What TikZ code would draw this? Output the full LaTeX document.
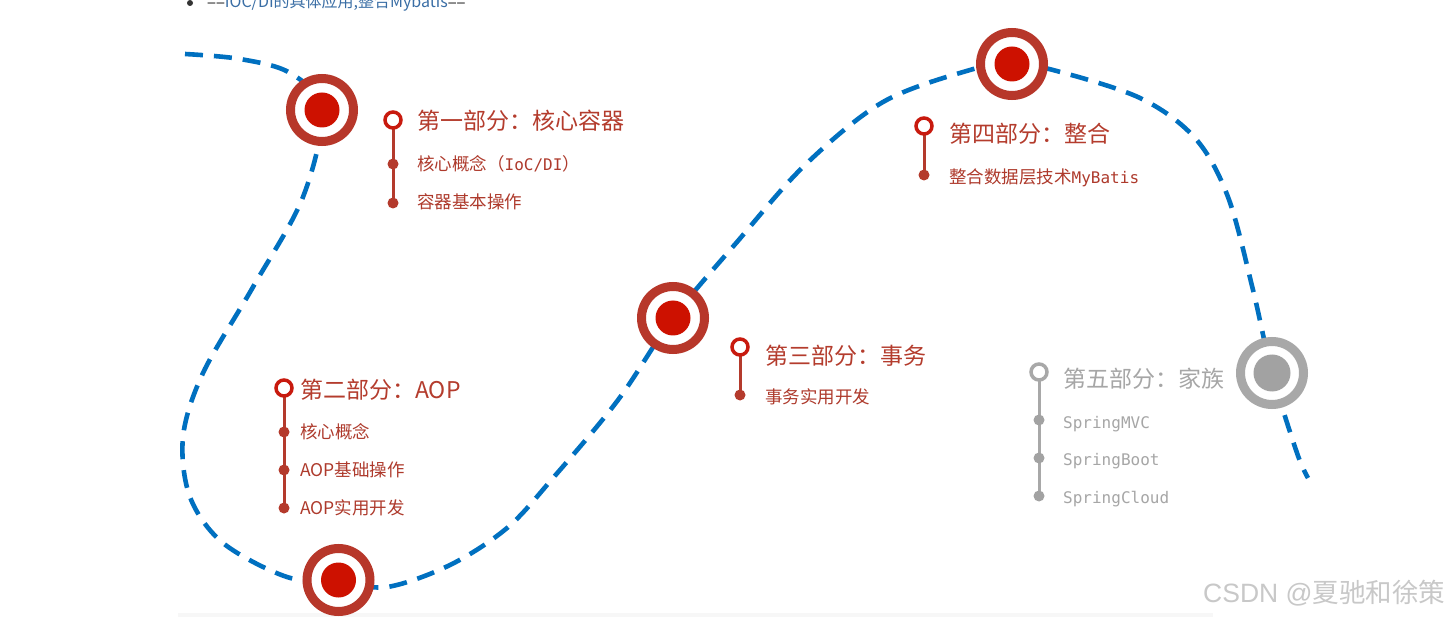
\documentclass[tikz,border=0pt]{standalone}
\usepackage{fontspec}
\setmainfont{Noto Sans CJK SC}
\newfontfamily\mono{DejaVu Sans Mono}
\newfontfamily\lsans{Liberation Sans}
\usetikzlibrary{backgrounds}
\definecolor{pathblue}{HTML}{0070C0}
\definecolor{ringred}{HTML}{B7372A}
\definecolor{dotred}{HTML}{CD1100}
\definecolor{markred}{HTML}{C81A0E}
\definecolor{stemred}{HTML}{B43A2C}
\definecolor{titlered}{HTML}{B43C2D}
\definecolor{subred}{HTML}{AE3A2C}
\definecolor{ringgray}{HTML}{A8A8A8}
\definecolor{dotgray}{HTML}{A2A2A2}
\definecolor{txtgray}{HTML}{A6A6A6}
\definecolor{topdark}{HTML}{333333}
\definecolor{topblue}{HTML}{3A6EA5}
\definecolor{wmgray}{HTML}{C8C8C8}
\begin{document}
\begin{tikzpicture}[x=1pt,y=-1pt,
  curvepath/.style={draw=pathblue, line width=4.6pt, dash pattern=on 18pt off 11pt},
  bigring/.style={circle, draw=#1, line width=9pt, fill=white, minimum size=63pt, inner sep=0pt},
  bigdot/.style={circle, fill=#1, minimum size=35pt, inner sep=0pt},
  hollow/.style={circle, draw=#1, line width=3.5pt, fill=white, minimum size=16pt, inner sep=0pt},
  smalldot/.style={circle, fill=#1, minimum size=11pt, inner sep=0pt},
  stem/.style={draw=#1, line width=3pt},
  title/.style={anchor=base west, inner sep=0pt, text=#1, font=\fontsize{23}{23}\selectfont},
  sub/.style={anchor=base west, inner sep=0pt, text=#1, font=\fontsize{17.5}{17.5}\selectfont},
  monosub/.style={anchor=base west, inner sep=0pt, text=#1, font=\mono\fontsize{16}{16}\selectfont},
]
\useasboundingbox (0,0) rectangle (1456,617);

% top line (cut off)
\node[circle, fill=topdark, minimum size=6pt, inner sep=0pt] (bullet) at (190,3) {};
\node[anchor=base west, inner sep=0pt, font=\fontsize{16}{16}\selectfont] (toptext) at (207,7.5)
  {\textcolor{topdark}{==}\textcolor{topblue}{IOC/DI的具体应用,整合Mybatis}\textcolor{topdark}{==}};

% dashed route
\draw[curvepath] plot[smooth, tension=0.55] coordinates {
 (185,54) (240,59) (290,73) (322,110) (303,197) (253,287) (203,373) (183,437)
 (190,497) (223,543) (287,577) (338,581) (387,587) (450,565) (507,528) (553,478)
 (618,400) (673,318) (737,242) (805,165) (883,102) (970,70) (1012,64) (1053,70)
 (1140,98) (1195,138) (1228,197) (1253,290) (1272,373) (1297,453) (1308,478)};

% milestone rings
\node[bigring=ringred] (r1) at (322,110) {};
\node[bigdot=dotred] (r1d) at (r1) {};
\node[bigring=ringred] (r2) at (338.5,580) {};
\node[bigdot=dotred] (r2d) at (r2) {};
\node[bigring=ringred] (r3) at (673,318) {};
\node[bigdot=dotred] (r3d) at (r3) {};
\node[bigring=ringred] (r4) at (1012,64) {};
\node[bigdot=dotred] (r4d) at (r4) {};
\node[bigring=ringgray] (r5) at (1272,373) {};
\node[bigdot=dotgray, minimum size=37pt] (r5d) at (r5) {};

% section 1
\node[hollow=markred] (h1) at (393,120) {};
\node[smalldot=stemred] (d11) at (393,164) {};
\node[smalldot=stemred] (d12) at (393,203) {};
\node[title=titlered] (t1) at (417,130) {第一部分：核心容器};
\node[sub=subred] (s11) at (417,170.5) {核心概念（{\mono\fontsize{16}{16}\selectfont IoC/DI}）};
\node[sub=subred] (s12) at (417,208.5) {容器基本操作};

% section 2
\node[hollow=markred] (h2) at (284,388) {};
\node[smalldot=stemred] (d21) at (284,432) {};
\node[smalldot=stemred] (d22) at (284,470) {};
\node[smalldot=stemred] (d23) at (284,508) {};
\node[title=titlered] (t2) at (300,398) {第二部分：AOP};
\node[sub=subred] (s21) at (300,438.5) {核心概念};
\node[sub=subred] (s22) at (300,476.5) {AOP基础操作};
\node[sub=subred] (s23) at (300,514.5) {AOP实用开发};

% section 3
\node[hollow=markred] (h3) at (740,347) {};
\node[smalldot=stemred] (d31) at (740,395) {};
\node[title=titlered] (t3) at (765,364) {第三部分：事务};
\node[sub=subred] (s31) at (765,403.5) {事务实用开发};

% section 4
\node[hollow=markred] (h4) at (924,126) {};
\node[smalldot=stemred] (d41) at (924,175) {};
\node[title=titlered] (t4) at (949,143) {第四部分：整合};
\node[sub=subred] (s41) at (949,183.5) {整合数据层技术{\mono\fontsize{16}{16}\selectfont MyBatis}};

% section 5
\node[hollow=ringgray] (h5) at (1039,372) {};
\node[smalldot=dotgray] (d51) at (1039,420) {};
\node[smalldot=dotgray] (d52) at (1039,458) {};
\node[smalldot=dotgray] (d53) at (1039,496) {};
\node[title=txtgray] (t5) at (1063,388) {第五部分：家族};
\node[monosub=txtgray] (s51) at (1063,428) {SpringMVC};
\node[monosub=txtgray] (s52) at (1063,465) {SpringBoot};
\node[monosub=txtgray] (s53) at (1063,503) {SpringCloud};

% background, band and stems
\begin{scope}[on background layer]
\fill[white] (0,0) rectangle (1456,617);
\fill[black!3] (178,613) rectangle (1213,617);
\draw[stem=stemred] (h1.center) -- (d12.center);
\draw[stem=stemred] (h2.center) -- (d23.center);
\draw[stem=stemred] (h3.center) -- (d31.center);
\draw[stem=stemred] (h4.center) -- (d41.center);
\draw[stem=ringgray] (h5.center) -- (d53.center);
\end{scope}

% watermark
\node[anchor=base west, inner sep=0pt, text=wmgray, font=\fontsize{26.5}{26.5}\selectfont] (wm) at (1203,602)
  {{\lsans CSDN @}夏驰和徐策};
\end{tikzpicture}
\end{document}
